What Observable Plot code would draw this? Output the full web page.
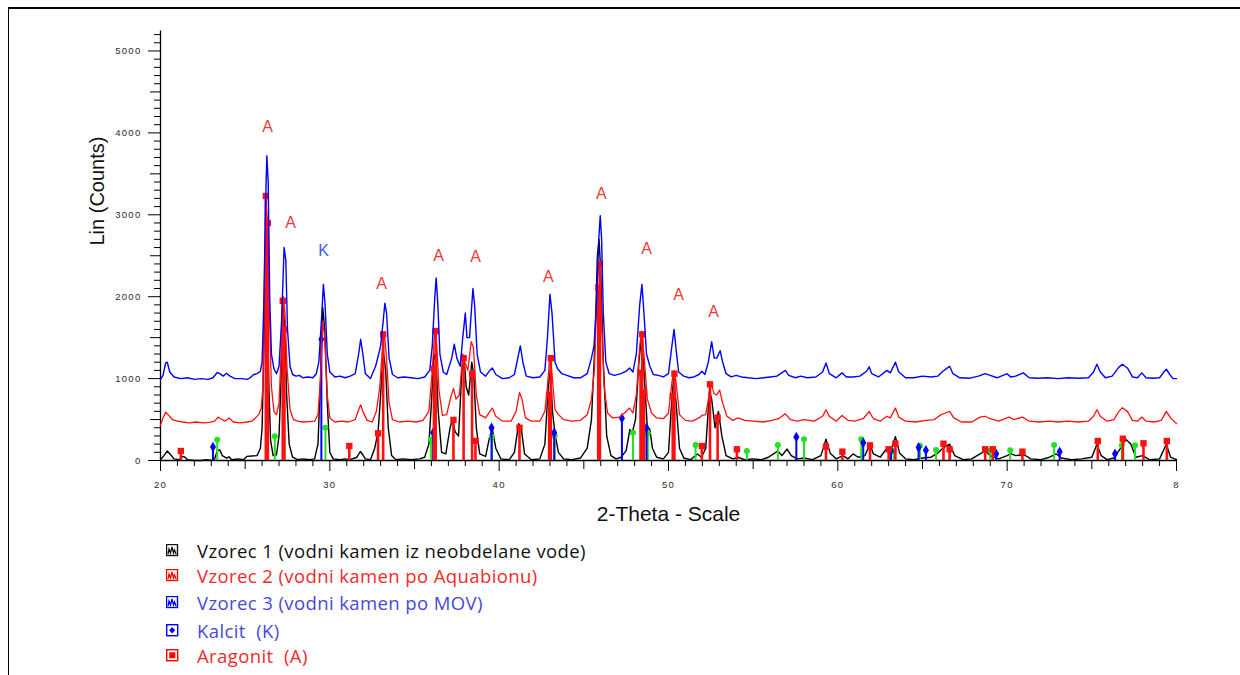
<!DOCTYPE html>
<html>
<head>
<meta charset="utf-8">
<script src="https://cdn.jsdelivr.net/npm/d3@7"></script>
<script src="https://cdn.jsdelivr.net/npm/@observablehq/plot@0.6"></script>
<style>
body{margin:0;background:#fff;}
#wrap{position:relative;width:1240px;height:675px;overflow:hidden;background:#fff;}
#frame{position:absolute;left:8px;top:7px;width:1300px;height:700px;border-top:2px solid #000;border-left:1.5px solid #000;}
#chart{position:absolute;left:0;top:0;}
#legend{position:absolute;left:0;top:0;font-family:"Open Sans","Noto Sans",sans-serif;font-size:18.5px;letter-spacing:0.4px;}
.row{position:absolute;left:166px;white-space:nowrap;display:flex;align-items:center;height:24px;}
.row svg{margin-right:18px;}
g[aria-label="y-axis tick label"] text, g[aria-label="x-axis tick label"] text{letter-spacing:1.3px;}
</style>
</head>
<body>
<div id="wrap">
  <div id="frame"></div>
  <div id="chart"></div>
  <div id="legend"></div>
</div>
<script>
// ---------- data (2-Theta in degrees, Lin counts) ----------
const vzorec3 = [[20.0,990],[20.15,1040],[20.3,1190],[20.4,1200],[20.55,1080],[20.8,1020],[21.2,1000],[21.6,1010],[22.0,990],[22.4,1000],[22.8,990],[23.1,1010],[23.35,1075],[23.5,1060],[23.7,1030],[23.9,1065],[24.1,1030],[24.4,1000],[24.8,1000],[25.1,990],[25.3,1010],[25.5,1050],[25.7,1060],[25.9,1090],[26.0,1200],[26.1,1900],[26.2,3100],[26.28,3720],[26.36,3400],[26.45,2000],[26.55,1300],[26.7,1120],[26.85,1060],[27.0,1150],[27.15,1700],[27.3,2600],[27.4,2450],[27.5,1600],[27.65,1150],[27.8,1050],[28.0,1030],[28.2,1040],[28.4,1010],[28.7,1020],[29.0,1010],[29.2,1060],[29.35,1200],[29.5,1700],[29.62,2150],[29.72,1900],[29.85,1300],[30.0,1080],[30.3,1020],[30.6,1030],[30.9,1010],[31.2,1030],[31.5,1060],[31.7,1300],[31.82,1480],[31.95,1300],[32.1,1060],[32.4,1000],[32.7,1150],[32.85,1270],[33.0,1400],[33.15,1700],[33.25,1920],[33.35,1800],[33.5,1250],[33.7,1050],[34.0,1010],[34.4,1020],[34.8,1010],[35.2,1000],[35.6,1020],[35.9,1100],[36.05,1400],[36.2,2000],[36.28,2230],[36.38,1900],[36.5,1300],[36.7,1080],[36.9,1050],[37.2,1250],[37.35,1420],[37.5,1250],[37.7,1150],[37.85,1500],[38.0,1800],[38.1,1500],[38.25,1500],[38.45,2100],[38.55,1900],[38.7,1300],[38.9,1080],[39.2,1030],[39.45,1100],[39.6,1130],[39.8,1050],[40.2,1000],[40.6,1010],[40.9,1050],[41.1,1250],[41.25,1400],[41.4,1200],[41.6,1030],[42.0,1010],[42.4,1020],[42.7,1100],[42.85,1500],[43.0,2030],[43.12,1800],[43.3,1200],[43.45,1120],[43.7,1060],[44.0,1040],[44.4,1010],[44.8,1010],[45.2,1060],[45.45,1250],[45.6,1400],[45.75,1900],[45.88,2700],[45.97,2990],[46.05,2700],[46.15,1800],[46.3,1200],[46.5,1060],[46.8,1040],[47.2,1060],[47.5,1090],[47.7,1130],[47.9,1080],[48.1,1300],[48.3,1900],[48.43,2150],[48.55,1800],[48.7,1300],[48.9,1150],[49.1,1050],[49.4,1040],[49.7,1020],[50.0,1060],[50.2,1400],[50.33,1600],[50.45,1350],[50.6,1080],[50.9,1030],[51.2,1010],[51.5,1020],[51.8,1050],[51.97,1090],[52.15,1050],[52.35,1200],[52.55,1450],[52.7,1250],[52.85,1250],[53.05,1340],[53.2,1200],[53.4,1060],[53.7,1020],[54.0,1040],[54.3,1020],[54.7,1010],[55.2,1000],[55.6,1010],[56.0,1020],[56.4,1030],[56.9,1100],[57.1,1040],[57.5,1010],[57.8,1030],[58.2,1010],[58.7,1020],[59.1,1080],[59.3,1190],[59.5,1060],[59.9,1010],[60.25,1070],[60.5,1020],[60.9,1020],[61.3,1030],[61.7,1090],[61.85,1145],[62.0,1060],[62.4,1020],[62.9,1100],[63.1,1070],[63.4,1200],[63.6,1080],[64.0,1010],[64.5,1010],[65.0,1030],[65.5,1020],[65.9,1030],[66.2,1090],[66.6,1150],[66.8,1060],[67.2,1010],[67.8,1005],[68.3,1030],[68.7,1060],[69.0,1040],[69.4,1010],[70.0,1060],[70.2,1020],[70.5,1030],[70.95,1070],[71.3,1010],[71.8,1005],[72.4,1010],[73.0,1000],[73.6,1010],[74.2,1005],[74.8,1010],[75.1,1080],[75.3,1175],[75.5,1080],[75.8,1010],[76.2,1030],[76.6,1140],[76.8,1175],[77.1,1130],[77.4,1020],[77.7,1010],[77.95,1070],[78.2,1010],[78.6,1005],[79.0,1010],[79.25,1080],[79.4,1115],[79.6,1050],[79.8,1000],[80.0,1000]];

const vzorec2 = [[20.0,430],[20.15,520],[20.3,590],[20.45,560],[20.7,500],[21.0,480],[21.3,470],[21.7,460],[22.1,470],[22.5,460],[22.9,465],[23.2,480],[23.4,530],[23.55,510],[23.8,480],[24.05,520],[24.3,470],[24.7,460],[25.1,470],[25.4,480],[25.6,520],[25.8,560],[25.95,640],[26.05,900],[26.15,2300],[26.25,3100],[26.33,2900],[26.43,1800],[26.55,900],[26.7,600],[26.85,560],[27.0,700],[27.12,1300],[27.25,2000],[27.35,1800],[27.48,1100],[27.65,620],[27.85,500],[28.1,480],[28.4,470],[28.8,475],[29.1,480],[29.3,560],[29.45,1000],[29.58,1700],[29.7,1500],[29.85,800],[30.0,520],[30.3,470],[30.7,480],[31.1,470],[31.5,500],[31.7,620],[31.82,680],[31.95,600],[32.2,490],[32.5,470],[32.75,600],[32.95,900],[33.1,1350],[33.22,1550],[33.35,1250],[33.5,700],[33.7,500],[34.1,470],[34.6,480],[35.1,470],[35.5,490],[35.85,600],[36.05,1100],[36.2,1600],[36.32,1400],[36.45,850],[36.65,550],[36.9,560],[37.15,780],[37.3,880],[37.45,750],[37.65,800],[37.85,1300],[37.98,1200],[38.15,1100],[38.35,1450],[38.48,1380],[38.65,800],[38.85,560],[39.2,520],[39.45,600],[39.6,640],[39.8,540],[40.2,480],[40.7,480],[41.0,600],[41.2,830],[41.35,750],[41.55,520],[41.9,480],[42.4,480],[42.7,600],[42.85,900],[42.98,1250],[43.1,1100],[43.3,620],[43.5,560],[43.8,500],[44.3,480],[44.8,490],[45.2,560],[45.45,750],[45.62,1100],[45.75,1900],[45.86,2400],[45.95,2300],[46.05,1700],[46.2,900],[46.4,580],[46.7,520],[47.1,530],[47.45,590],[47.7,640],[47.9,580],[48.1,800],[48.3,1400],[48.42,1580],[48.55,1300],[48.75,750],[49.0,580],[49.3,520],[49.7,510],[50.0,580],[50.2,950],[50.32,1100],[50.45,950],[50.65,560],[51.0,490],[51.4,480],[51.8,520],[51.97,550],[52.2,560],[52.4,800],[52.52,950],[52.68,820],[52.85,800],[53.02,860],[53.2,700],[53.45,540],[53.8,490],[54.1,520],[54.5,490],[55.0,480],[55.6,470],[56.1,490],[56.5,510],[56.9,570],[57.2,500],[57.6,480],[58.0,500],[58.6,480],[59.1,540],[59.3,620],[59.5,540],[59.9,480],[60.25,550],[60.6,490],[61.0,480],[61.5,510],[61.85,600],[62.1,510],[62.5,480],[62.9,540],[63.1,520],[63.4,640],[63.6,530],[64.0,480],[64.6,470],[65.2,490],[65.7,500],[66.1,560],[66.35,580],[66.6,600],[66.85,520],[67.3,470],[67.9,470],[68.4,530],[68.7,540],[69.0,510],[69.5,480],[70.1,530],[70.4,500],[70.9,530],[71.3,480],[71.9,470],[72.5,480],[73.0,470],[73.6,480],[74.2,470],[74.8,480],[75.1,540],[75.3,620],[75.5,540],[75.9,480],[76.3,500],[76.6,600],[76.8,645],[77.1,600],[77.4,490],[77.7,480],[77.95,530],[78.2,480],[78.7,470],[79.1,490],[79.4,600],[79.65,520],[80.0,450]];

const vzorec1 = [[20.0,10],[20.2,60],[20.4,115],[20.6,70],[20.8,20],[21.1,10],[21.3,50],[21.45,40],[21.6,10],[22.0,0],[22.4,0],[22.7,10],[23.0,0],[23.2,20],[23.35,120],[23.5,130],[23.65,60],[23.9,30],[24.05,45],[24.2,10],[24.6,20],[24.9,10],[25.1,50],[25.4,55],[25.7,60],[25.9,150],[26.0,400],[26.1,1300],[26.2,2300],[26.3,2100],[26.4,900],[26.5,250],[26.65,60],[26.85,70],[27.0,300],[27.12,1000],[27.25,1850],[27.35,1600],[27.45,800],[27.6,200],[27.8,40],[28.1,10],[28.4,20],[28.8,10],[29.1,20],[29.3,200],[29.45,1000],[29.58,1870],[29.7,1600],[29.85,700],[30.0,100],[30.2,20],[30.6,10],[30.9,20],[31.2,10],[31.6,40],[31.8,110],[31.95,70],[32.1,20],[32.4,10],[32.65,150],[32.85,350],[33.0,800],[33.15,1350],[33.3,1100],[33.45,400],[33.65,60],[33.9,10],[34.3,20],[34.8,10],[35.3,20],[35.6,40],[35.85,200],[36.0,700],[36.15,1300],[36.28,1200],[36.4,600],[36.6,100],[36.85,80],[37.1,400],[37.25,500],[37.4,350],[37.6,300],[37.8,1100],[37.93,1250],[38.05,900],[38.2,800],[38.38,1200],[38.5,1050],[38.65,400],[38.85,80],[39.2,50],[39.45,300],[39.6,380],[39.8,150],[40.1,20],[40.6,10],[40.9,100],[41.15,450],[41.3,400],[41.5,80],[41.9,10],[42.4,20],[42.7,200],[42.9,900],[43.02,1100],[43.15,600],[43.3,320],[43.5,100],[43.8,20],[44.3,10],[44.8,30],[45.2,150],[45.45,500],[45.65,1400],[45.8,2500],[45.9,2700],[46.0,2300],[46.15,1200],[46.35,300],[46.6,60],[46.9,20],[47.2,40],[47.5,120],[47.72,380],[47.85,330],[48.05,500],[48.25,1200],[48.4,1500],[48.55,1100],[48.75,400],[48.9,380],[49.05,150],[49.3,40],[49.7,20],[50.0,100],[50.15,600],[50.3,1000],[50.45,700],[50.65,150],[50.9,30],[51.3,10],[51.7,80],[51.95,40],[52.2,150],[52.42,850],[52.55,750],[52.75,400],[52.95,600],[53.15,300],[53.4,60],[53.8,20],[54.1,40],[54.5,10],[55.0,20],[55.5,10],[55.9,40],[56.2,80],[56.45,116],[56.7,60],[57.0,140],[57.25,60],[57.6,20],[58.0,30],[58.5,10],[59.0,60],[59.3,260],[59.55,90],[59.9,20],[60.3,60],[60.6,20],[60.9,80],[61.2,40],[61.6,60],[61.9,200],[62.1,80],[62.5,40],[62.9,150],[63.1,100],[63.4,290],[63.65,90],[64.0,20],[64.5,10],[65.0,30],[65.5,40],[65.9,90],[66.2,150],[66.6,200],[66.9,60],[67.4,10],[67.9,20],[68.4,80],[68.7,116],[69.0,60],[69.5,20],[70.0,60],[70.2,83],[70.5,60],[71.0,70],[71.4,20],[72.0,10],[72.5,40],[72.9,80],[73.2,30],[73.8,10],[74.4,20],[75.0,40],[75.3,198],[75.55,60],[75.9,10],[76.3,30],[76.7,150],[77.0,260],[77.3,200],[77.6,40],[78.0,60],[78.4,10],[79.0,20],[79.4,198],[79.65,40],[80.0,10]];

// reference sticks: [2-Theta, counts]
const aragonitSticks = [[21.2,116],[26.22,3230],[26.34,2900],[27.22,1950],[27.32,1600],[31.15,177],[32.85,332],[33.15,1540],[36.15,1120],[36.25,1580],[37.3,495],[37.9,1250],[38.4,1057],[38.6,240],[41.2,400],[42.95,800],[43.05,1250],[45.85,2110],[45.95,2400],[48.35,1072],[48.45,1540],[48.55,828],[50.25,788],[50.35,1060],[51.97,177],[52.45,930],[52.9,523],[54.04,137],[59.3,169],[60.27,108],[61.9,185],[63.0,137],[63.4,205],[66.24,205],[66.6,137],[68.7,137],[69.15,137],[70.9,108],[75.35,238],[76.83,266],[78.05,210],[79.43,238]];
const kalcitSticks = [[23.1,165],[29.5,1480],[36.1,340],[39.55,400],[43.25,340],[47.25,515],[48.7,400],[57.55,287],[61.5,218],[63.14,116],[64.77,160],[65.2,125],[69.35,83],[73.1,108],[76.37,83]];
const greenSticks = [[23.35,254],[26.75,295],[29.74,400],[35.98,258],[39.58,290],[43.28,300],[47.9,340],[48.78,332],[51.6,189],[54.63,116],[56.46,189],[58.0,258],[61.38,258],[63.3,116],[64.85,180],[65.8,128],[69.0,125],[70.18,125],[72.77,189],[76.77,185],[77.55,185]];

// peak annotations
const peakText = ["A","A","K","A","A","A","A","A","A","A","A"];
const peakX = [26.32,27.68,29.63,33.05,36.42,38.60,42.91,46.04,48.70,50.59,52.66];
const peakY = [4078,2906,2564,2161,2503,2491,2247,3260,2589,2027,1819];

// axes
const xTickValues = [20,30,40,50,60,70,80];
const xTickLabels = ["20","30","40","50","60","70","8"];
const yTickValues = [0,1000,2000,3000,4000,5000];
const yTickLabels = ["0","1000","2000","3000","4000","5000"];
const xLabel = "2-Theta - Scale";
const yLabel = "Lin (Counts)";

// legend
const legendLabels = ["Vzorec 1 (vodni kamen iz neobdelane vode)","Vzorec 2 (vodni kamen po Aquabionu)","Vzorec 3 (vodni kamen po MOV)","Kalcit  (K)","Aragonit  (A)"];

// ---------- chart ----------
const RED = "#ff1010", BLUE = "#0000ff", GREEN = "#22e022";
const xFmt = new Map(xTickValues.map((v,i)=>[v,xTickLabels[i]]));
const yFmt = new Map(yTickValues.map((v,i)=>[v,yTickLabels[i]]));
const X = d => d[0], Y = d => d[1];
const peaks = peakText.map((t,i)=>({t, x: peakX[i], y: peakY[i]}));

const chart = Plot.plot({
  width: 1240,
  height: 530,
  marginLeft: 160,
  marginRight: 64,
  marginTop: 30,
  marginBottom: 70,
  style: {fontFamily: "Liberation Sans, Arial, sans-serif", fontSize: "9.5px", background: "transparent", color: "#000"},
  x: {domain: [20, 80]},
  y: {domain: [0, 5250]},
  marks: [
    // y axis ticks
    Plot.axisY({ticks: d3.range(0, 5201, 100).filter(d => d % 500 !== 0), tickSize: 6, tickFormat: () => "", label: null, stroke: "#000"}),
    Plot.axisY({ticks: d3.range(500, 5001, 1000), tickSize: 10, tickFormat: () => "", label: null}),
    Plot.axisY({ticks: yTickValues, tickSize: 12, tickPadding: 7, tickFormat: d => yFmt.get(d), label: null, fill: "#2a2a2a"}),
    // x axis ticks
    Plot.axisX({ticks: d3.range(21, 80, 1).filter(d => d % 5 !== 0), tickSize: 6, tickFormat: () => "", label: null}),
    Plot.axisX({ticks: d3.range(25, 80, 10), tickSize: 9, tickFormat: () => "", label: null}),
    Plot.axisX({ticks: xTickValues, tickSize: 11, tickPadding: 10, tickFormat: d => xFmt.get(d), label: null, fill: "#2a2a2a"}),
    // axis lines
    Plot.ruleX([20], {y1: 0, y2: 5244, stroke: "#000", strokeWidth: 1.3}),
    Plot.ruleY([0], {stroke: "#000", strokeWidth: 1.3}),
    // traces
    Plot.line(vzorec1, {x: X, y: Y, stroke: "#000", strokeWidth: 1.4}),
    Plot.ruleX(greenSticks, {x: X, y1: 0, y2: Y, stroke: GREEN, strokeWidth: 2}),
    Plot.dot(greenSticks, {x: X, y: Y, r: 3, fill: GREEN, symbol: "circle"}),
    Plot.ruleX(kalcitSticks, {x: X, y1: 0, y2: Y, stroke: BLUE, strokeWidth: 2}),
    Plot.dot(kalcitSticks, {x: X, y: Y, r: 3.2, fill: BLUE, symbol: "diamond"}),
    Plot.ruleX(aragonitSticks, {x: X, y1: 0, y2: Y, stroke: RED, strokeWidth: 2.6}),
    Plot.dot(aragonitSticks, {x: X, y: Y, r: 3.6, fill: RED, symbol: "square"}),
    Plot.line(vzorec2, {x: X, y: Y, stroke: RED, strokeWidth: 1.3}),
    Plot.line(vzorec3, {x: X, y: Y, stroke: BLUE, strokeWidth: 1.4}),
    // annotations
    Plot.text(peaks, {x: "x", y: "y", text: "t", fill: d => d.t === "K" ? "#4a5ae0" : "#f03838", fontSize: 16, fontFamily: "Liberation Sans, Arial, sans-serif"}),
    // axis titles
    Plot.text([yLabel], {frameAnchor: "left", dx: -63, rotate: -90, text: d => d, fontSize: 20, fill: "#111"}),
    Plot.text([xLabel], {frameAnchor: "bottom", dy: 60, text: d => d, fontSize: 21, fill: "#111"})
  ]
});
document.getElementById("chart").appendChild(chart);

// ---------- legend ----------
const legendColors = ["#111", "#ef2a2a", "#4848d8", "#4848d8", "#ef2a2a"];
const iconStroke = ["#111", "#ff0000", "#0000ff", "#0000ff", "#ff0000"];
const rowCenters = [550, 575, 602, 630, 655];
const legend = document.getElementById("legend");
legendLabels.forEach((lab, i) => {
  const row = document.createElement("div");
  row.className = "row";
  row.style.top = (rowCenters[i] - 12) + "px";
  const c = iconStroke[i];
  let inner;
  if (i < 3) {
    inner = `<rect x="0.5" y="0.5" width="11" height="11" fill="#fff" stroke="${c}" stroke-width="1.4"/>` +
            `<polyline points="2,10 3,5 4.5,9 6,3 7.5,9 8.5,6 10,10" fill="none" stroke="${c}" stroke-width="1.3"/>`;
  } else if (i === 3) {
    inner = `<rect x="0.7" y="0.7" width="11" height="11" fill="#fff" stroke="${c}" stroke-width="1.4"/>` +
            `<polygon points="6.2,3 9.2,6.2 6.2,9.4 3.2,6.2" fill="${c}"/>`;
  } else {
    inner = `<rect x="0.7" y="0.7" width="11" height="11" fill="#fff" stroke="${c}" stroke-width="1.4"/>` +
            `<rect x="3.3" y="3.3" width="6" height="6" fill="${c}"/>`;
  }
  row.innerHTML = `<svg width="13" height="13" viewBox="0 0 13 13">${inner}</svg><span style="color:${legendColors[i]}">${lab.replace(/  /g, "&nbsp; ")}</span>`;
  legend.appendChild(row);
});
</script>
</body>
</html>
